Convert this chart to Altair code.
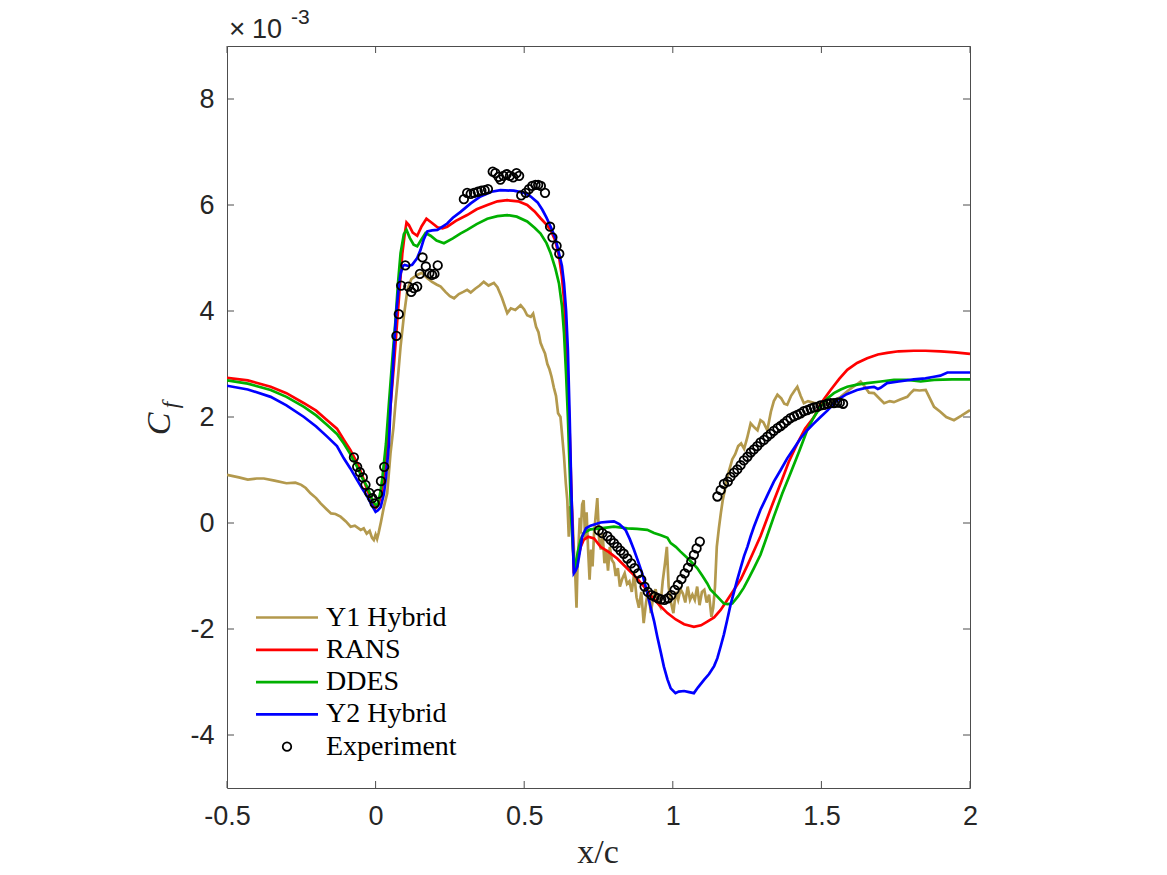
import altair as alt
import pandas as pd

# Skin-friction coefficient along the chord, Cf in units of 1e-3

y1_x = [-0.50, -0.46, -0.43, -0.40, -0.376, -0.34, -0.30, -0.27, -0.25, -0.235, -0.219, -0.20,
        -0.185, -0.165, -0.15, -0.135, -0.118, -0.10, -0.084, -0.07, -0.05, -0.04, -0.03, -0.02,
        -0.012, -0.006, 0.0, 0.005, 0.01, 0.018, 0.028, 0.039, 0.05, 0.06, 0.067, 0.076, 0.084,
        0.095, 0.107, 0.12, 0.14, 0.155, 0.174, 0.19, 0.205, 0.219, 0.235, 0.25, 0.264, 0.28,
        0.295, 0.308, 0.32, 0.335, 0.35, 0.364, 0.38, 0.398, 0.41, 0.425, 0.443, 0.455, 0.47,
        0.488, 0.50, 0.51, 0.522, 0.53, 0.54, 0.548, 0.555, 0.562, 0.57, 0.578, 0.585, 0.592,
        0.60, 0.607, 0.614, 0.622, 0.628, 0.634, 0.64, 0.645, 0.65, 0.655, 0.66, 0.664, 0.668,
        0.672, 0.676, 0.679, 0.683, 0.687, 0.69, 0.695, 0.70, 0.705, 0.71, 0.715, 0.72, 0.725,
        0.73, 0.735, 0.74, 0.746, 0.752, 0.758, 0.764, 0.77, 0.776, 0.782, 0.788, 0.795, 0.802,
        0.808, 0.815, 0.822, 0.83, 0.838, 0.846, 0.854, 0.862, 0.87, 0.878, 0.886, 0.894, 0.902,
        0.91, 0.918, 0.926, 0.934, 0.942, 0.95, 0.958, 0.966, 0.974, 0.98, 0.986, 0.994, 1.002,
        1.01, 1.018, 1.026, 1.034, 1.042, 1.05, 1.058, 1.066, 1.074, 1.082, 1.09, 1.098, 1.106,
        1.114, 1.122, 1.13, 1.136, 1.142, 1.148, 1.155, 1.162, 1.168, 1.175, 1.182, 1.19, 1.2,
        1.21, 1.22, 1.23, 1.24, 1.25, 1.262, 1.275, 1.285, 1.295, 1.305, 1.318, 1.33, 1.34,
        1.352, 1.365, 1.375, 1.385, 1.398, 1.41, 1.419, 1.43, 1.441, 1.455, 1.475, 1.49, 1.509,
        1.53, 1.55, 1.565, 1.59, 1.61, 1.632, 1.645, 1.66, 1.677, 1.695, 1.711, 1.73, 1.744,
        1.765, 1.789, 1.80, 1.811, 1.83, 1.851, 1.865, 1.879, 1.90, 1.92, 1.946, 1.97, 2.0]
y1_cf = [0.91, 0.86, 0.82, 0.84, 0.84, 0.80, 0.75, 0.76, 0.72, 0.66, 0.56, 0.47,
         0.37, 0.26, 0.18, 0.17, 0.12, 0.03, -0.07, -0.05, -0.13, -0.10, -0.20, -0.15,
         -0.28, -0.32, -0.22, -0.30, -0.19, 0.02, 0.31, 0.56, 1.31, 1.80, 2.26, 2.80, 3.33,
         3.90, 4.40, 4.60, 4.68, 4.72, 4.62, 4.55, 4.50, 4.46, 4.36, 4.28, 4.24, 4.32,
         4.36, 4.40, 4.35, 4.42, 4.48, 4.55, 4.48, 4.53, 4.45, 4.25, 3.96, 4.05, 4.02,
         4.11, 4.03, 3.92, 3.89, 3.95, 3.70, 3.60, 3.40, 3.30, 3.20, 3.00, 2.90, 2.76,
         2.55, 2.40, 2.07, 2.00, 1.63, 1.25, 0.75, 0.43, -0.26, 0.30, 0.31, -0.10, -0.60,
         -1.00, -1.60, -0.89, -0.40, 0.10, -0.20, 0.35, 0.43, -0.30, 0.20, -0.50, -1.07, -0.50,
         -0.82, -0.20, 0.10, 0.47, -0.30, -0.50, -0.20, -0.76, -0.50, -0.90, -0.45, -0.70, -0.76,
         -1.00, -0.85, -1.20, -1.05, -0.95, -1.15, -1.10, -1.30, -0.95, -1.40, -1.60, -1.30, -1.89,
         -1.50, -1.26, -1.70, -1.40, -1.25, -1.50, -1.58, -1.10, -0.75, -0.45, -1.20, -1.50, -1.70,
         -1.30, -1.45, -1.25, -1.33, -1.50, -1.20, -1.45, -1.35, -1.45, -1.20, -1.55, -1.30, -1.26,
         -1.50, -1.35, -1.77, -1.60, -1.20, -0.45, -0.10, 0.20, 0.43, 0.62, 0.85, 1.00, 1.20,
         1.30, 1.45, 1.50, 1.40, 1.60, 1.88, 1.80, 1.75, 1.94, 1.90, 1.75, 2.10, 2.30,
         2.42, 2.35, 2.25, 2.23, 2.40, 2.50, 2.57, 2.40, 2.26, 2.30, 2.27, 2.25, 2.22,
         2.28, 2.33, 2.38, 2.50, 2.58, 2.67, 2.58, 2.46, 2.45, 2.35, 2.26, 2.30, 2.28,
         2.33, 2.38, 2.45, 2.51, 2.50, 2.51, 2.35, 2.19, 2.10, 2.00, 1.94, 2.02, 2.13]

rans_x = [-0.5, -0.43, -0.353, -0.3, -0.241, -0.2, -0.163, -0.13, -0.107, -0.085, -0.062, -0.045,
          -0.028, -0.012, 0.0, 0.01, 0.02, 0.028, 0.04, 0.05, 0.062, 0.073, 0.082, 0.09, 0.098,
          0.104, 0.112, 0.125, 0.14, 0.155, 0.171, 0.19, 0.208, 0.225, 0.241, 0.27, 0.308, 0.34,
          0.376, 0.41, 0.443, 0.48, 0.51, 0.535, 0.555, 0.575, 0.589, 0.605, 0.617, 0.627, 0.634,
          0.641, 0.647, 0.653, 0.658, 0.663, 0.667, 0.672, 0.679, 0.69, 0.70, 0.715, 0.735, 0.757,
          0.785, 0.813, 0.84, 0.869, 0.9, 0.925, 0.955, 0.982, 1.01, 1.038, 1.071, 1.095, 1.116,
          1.139, 1.161, 1.18, 1.206, 1.23, 1.251, 1.275, 1.295, 1.307, 1.335, 1.363, 1.39, 1.419,
          1.445, 1.475, 1.5, 1.531, 1.56, 1.587, 1.62, 1.654, 1.69, 1.721, 1.76, 1.811, 1.85,
          1.901, 1.95, 2.0]
rans_cf = [2.74, 2.69, 2.57, 2.45, 2.26, 2.12, 1.94, 1.78, 1.57, 1.38, 1.13, 0.90,
           0.62, 0.42, 0.28, 0.35, 0.58, 0.87, 1.50, 2.19, 3.00, 3.83, 4.50, 5.09, 5.45,
           5.67, 5.62, 5.48, 5.42, 5.60, 5.74, 5.66, 5.58, 5.56, 5.59, 5.70, 5.81, 5.92,
           6.00, 6.07, 6.09, 6.07, 6.00, 5.88, 5.75, 5.63, 5.53, 5.32, 5.03, 4.65, 4.21,
           3.50, 2.64, 1.70, 0.75, -0.20, -0.95, -0.85, -0.70, -0.45, -0.32, -0.26, -0.29, -0.45,
           -0.55, -0.67, -0.82, -0.98, -1.18, -1.36, -1.55, -1.70, -1.82, -1.91, -1.96, -1.93, -1.86,
           -1.78, -1.64, -1.48, -1.26, -1.05, -0.80, -0.50, -0.25, -0.07, 0.35, 0.75, 1.15, 1.50,
           1.78, 2.00, 2.27, 2.51, 2.72, 2.89, 3.02, 3.11, 3.18, 3.21, 3.24, 3.25, 3.25,
           3.24, 3.22, 3.19]

ddes_x = [-0.5, -0.43, -0.353, -0.3, -0.241, -0.2, -0.163, -0.13, -0.107, -0.085, -0.062, -0.045,
          -0.028, -0.012, -0.003, 0.005, 0.015, 0.022, 0.035, 0.044, 0.055, 0.067, 0.075, 0.084,
          0.095, 0.104, 0.115, 0.128, 0.14, 0.152, 0.168, 0.185, 0.205, 0.23, 0.26, 0.285, 0.308,
          0.34, 0.376, 0.41, 0.443, 0.475, 0.51, 0.535, 0.555, 0.575, 0.589, 0.605, 0.617, 0.627,
          0.634, 0.641, 0.647, 0.653, 0.658, 0.664, 0.671, 0.68, 0.69, 0.70, 0.723, 0.757, 0.802,
          0.847, 0.88, 0.914, 0.937, 0.96, 0.982, 0.993, 1.01, 1.026, 1.049, 1.065, 1.082, 1.1,
          1.116, 1.127, 1.15, 1.172, 1.185, 1.20, 1.22, 1.239, 1.255, 1.273, 1.295, 1.317, 1.34,
          1.368, 1.396, 1.425, 1.452, 1.475, 1.497, 1.52, 1.542, 1.565, 1.587, 1.62, 1.654, 1.7,
          1.744, 1.79, 1.834, 1.879, 1.94, 2.0]
ddes_cf = [2.69, 2.63, 2.51, 2.38, 2.19, 2.03, 1.85, 1.68, 1.50, 1.30, 1.06, 0.85,
           0.68, 0.45, 0.36, 0.32, 0.55, 0.81, 1.50, 2.19, 3.00, 3.83, 4.50, 5.09,
           5.45, 5.53, 5.38, 5.25, 5.22, 5.33, 5.47, 5.42, 5.33, 5.28, 5.37, 5.46, 5.53,
           5.64, 5.74, 5.79, 5.81, 5.78, 5.69, 5.57, 5.46, 5.28, 5.09, 4.80, 4.52, 4.10,
           3.58, 2.80, 2.00, 1.00, 0.12, -0.50, -0.89, -0.55, -0.32, -0.19, -0.12, -0.10, -0.07,
           -0.10, -0.11, -0.13, -0.19, -0.23, -0.28, -0.38, -0.45, -0.54, -0.66, -0.75, -0.85, -1.00,
           -1.14, -1.26, -1.39, -1.52, -1.53, -1.52, -1.38, -1.22, -1.05, -0.85, -0.60, -0.25, 0.12,
           0.55, 0.94, 1.35, 1.75, 2.00, 2.19, 2.35, 2.45, 2.52, 2.57, 2.61, 2.64, 2.67,
           2.70, 2.70, 2.67, 2.70, 2.71, 2.71]

y2_x = [-0.5, -0.43, -0.353, -0.3, -0.241, -0.2, -0.163, -0.13, -0.107, -0.085, -0.062, -0.045,
        -0.028, -0.012, 0.0, 0.008, 0.017, 0.028, 0.035, 0.045, 0.05, 0.058, 0.064, 0.07, 0.078,
        0.084, 0.092, 0.098, 0.11, 0.123, 0.14, 0.151, 0.162, 0.174, 0.19, 0.208, 0.241, 0.26,
        0.286, 0.32, 0.353, 0.39, 0.42, 0.465, 0.5, 0.522, 0.545, 0.561, 0.575, 0.589, 0.605,
        0.617, 0.627, 0.634, 0.641, 0.647, 0.653, 0.658, 0.663, 0.667, 0.673, 0.679, 0.69, 0.695,
        0.708, 0.723, 0.757, 0.78, 0.802, 0.82, 0.841, 0.855, 0.869, 0.883, 0.897, 0.911, 0.925,
        0.937, 0.948, 0.96, 0.97, 0.982, 0.993, 1.009, 1.02, 1.038, 1.055, 1.071, 1.085, 1.105,
        1.122, 1.139, 1.15, 1.161, 1.172, 1.183, 1.194, 1.206, 1.217, 1.228, 1.24, 1.251, 1.262,
        1.273, 1.295, 1.318, 1.34, 1.363, 1.385, 1.408, 1.43, 1.452, 1.475, 1.497, 1.52, 1.553,
        1.585, 1.62, 1.65, 1.677, 1.69, 1.699, 1.721, 1.76, 1.811, 1.85, 1.879, 1.9, 1.924,
        1.96, 2.0]
y2_cf = [2.59, 2.52, 2.38, 2.22, 2.00, 1.82, 1.63, 1.45, 1.22, 1.03, 0.81, 0.65,
         0.50, 0.33, 0.21, 0.24, 0.30, 0.55, 0.87, 1.50, 2.19, 2.90, 3.52, 4.00, 4.46,
         4.70, 4.85, 4.87, 4.85, 4.87, 5.00, 5.15, 5.35, 5.50, 5.52, 5.53, 5.65, 5.76,
         5.87, 6.03, 6.16, 6.25, 6.28, 6.27, 6.23, 6.16, 6.05, 5.91, 5.76, 5.59, 5.38,
         5.09, 4.85, 4.52, 4.00, 3.26, 2.00, 0.75, -0.20, -0.95, -0.90, -0.82, -0.45, -0.26,
         -0.10, -0.05, 0.01, 0.02, 0.03, -0.02, -0.13, -0.30, -0.50, -0.72, -0.95, -1.25, -1.58,
         -1.85, -2.15, -2.45, -2.71, -2.95, -3.12, -3.21, -3.18, -3.17, -3.19, -3.21, -3.10, -2.96,
         -2.85, -2.70, -2.55, -2.33, -2.10, -1.83, -1.55, -1.30, -1.07, -0.85, -0.62, -0.45, -0.25,
         -0.07, 0.25, 0.52, 0.78, 1.00, 1.22, 1.41, 1.60, 1.75, 1.88, 2.00, 2.12, 2.32,
         2.43, 2.51, 2.55, 2.57, 2.53, 2.55, 2.64, 2.67, 2.71, 2.73, 2.76, 2.78, 2.84,
         2.84, 2.84]

exp_x = [-0.073, -0.062, -0.053, -0.043, -0.034, -0.021, -0.011, -0.003, 0.008, 0.018, 0.029,
         0.070, 0.078, 0.086, 0.100, 0.110, 0.120, 0.129, 0.140, 0.149, 0.158, 0.169, 0.181,
         0.190, 0.198, 0.209,
         0.297, 0.308, 0.320, 0.331, 0.344, 0.356, 0.367, 0.378, 0.394, 0.403, 0.414, 0.420,
         0.430, 0.441, 0.452, 0.463, 0.474, 0.483, 0.490, 0.505, 0.516, 0.527, 0.538, 0.547,
         0.556, 0.570, 0.587, 0.595, 0.609, 0.618,
         0.751, 0.763, 0.780, 0.791, 0.802, 0.813, 0.824, 0.835, 0.847, 0.860, 0.871, 0.883,
         0.894, 0.905, 0.916, 0.928, 0.939, 0.950, 0.961, 0.972, 0.984, 0.995, 1.006, 1.017,
         1.029, 1.040, 1.051, 1.062, 1.071, 1.080, 1.091,
         1.150, 1.161, 1.172, 1.185, 1.194, 1.206, 1.217, 1.228, 1.239, 1.251, 1.262, 1.273,
         1.284, 1.295, 1.307, 1.318, 1.329, 1.340, 1.352, 1.363, 1.374, 1.385, 1.396, 1.408,
         1.419, 1.430, 1.441, 1.452, 1.464, 1.475, 1.486, 1.497, 1.509, 1.520, 1.531, 1.542,
         1.553, 1.562, 1.573]
exp_cf = [1.24, 1.06, 0.96, 0.86, 0.72, 0.57, 0.47, 0.37, 0.55, 0.79, 1.06,
          3.53, 3.94, 4.48, 4.86, 4.46, 4.36, 4.43, 4.46, 4.70, 5.01, 4.84, 4.71,
          4.68, 4.70, 4.86,
          6.11, 6.23, 6.21, 6.23, 6.25, 6.27, 6.28, 6.30, 6.63, 6.60, 6.53, 6.48,
          6.55, 6.58, 6.55, 6.52, 6.60, 6.55, 6.18, 6.23, 6.30, 6.36, 6.38, 6.38,
          6.36, 6.23, 5.59, 5.39, 5.23, 5.08,
          -0.14, -0.19, -0.25, -0.32, -0.38, -0.45, -0.52, -0.58, -0.67, -0.76, -0.85, -0.95,
          -1.07, -1.20, -1.30, -1.36, -1.39, -1.42, -1.44, -1.45, -1.42, -1.36, -1.26, -1.17,
          -1.06, -0.95, -0.84, -0.73, -0.60, -0.48, -0.35,
          0.50, 0.62, 0.74, 0.78, 0.87, 0.95, 1.01, 1.09, 1.18, 1.25, 1.33, 1.39,
          1.45, 1.52, 1.57, 1.63, 1.68, 1.74, 1.79, 1.83, 1.88, 1.93, 1.98, 2.01,
          2.04, 2.07, 2.11, 2.13, 2.16, 2.18, 2.19, 2.22, 2.23, 2.25, 2.26, 2.26,
          2.27, 2.27, 2.25]

series_names = ["Y1 Hybrid", "RANS", "DDES", "Y2 Hybrid"]
series_colors = ["#b3994d", "#ff0000", "#00b000", "#0000ff"]
series_data = [(y1_x, y1_cf), (rans_x, rans_cf), (ddes_x, ddes_cf), (y2_x, y2_cf)]
exp_name = "Experiment"

x_ticks = [-0.5, 0, 0.5, 1, 1.5, 2]
y_ticks = [-4, -2, 0, 2, 4, 6, 8]

# ---- layout (page pixels) ----
PAGE_W, PAGE_H = 1167, 875
LEFT, TOP, RIGHT, BOTTOM = 227, 46, 970, 788
W, H = RIGHT - LEFT, BOTTOM - TOP
FRAME = "#4d4d4d"
TICK_LEN = 7
SANS = "Liberation Sans"
SERIF = "Liberation Serif"
LINE_W = 2.7
MARKER_SIZE = 72
MARKER_W = 1.8

x_scale = alt.Scale(domain=[-0.5, 2], nice=False, zero=False)
y_scale = alt.Scale(domain=[-5, 9], nice=False, zero=False)
x_axis = alt.Axis(values=x_ticks, labelExpr="'' + datum.value", domain=False, ticks=False,
                  grid=False, title=None, labelFont=SANS, labelFontSize=27, labelFlush=False,
                  labelOverlap=False, labelColor="#262626", labelPadding=15)
y_axis = alt.Axis(values=y_ticks, labelExpr="'' + datum.value", domain=False, ticks=False,
                  grid=False, title=None, labelFont=SANS, labelFontSize=27, labelFlush=False,
                  labelOverlap=False, labelColor="#262626", labelPadding=13)


def X(field="x"):
    return alt.X(f"{field}:Q", scale=x_scale, axis=x_axis)


def Y(field="cf"):
    return alt.Y(f"{field}:Q", scale=y_scale, axis=y_axis)


ONE = pd.DataFrame({"_": [0]})


def px(v):
    return alt.value(v - LEFT)


def py(v):
    return alt.value(v - TOP)


def text_at(text, x, y, **kw):
    return alt.Chart(ONE).mark_text(text=text, **kw).encode(x=px(x), y=py(y))


layers = []

# simulation curves, drawn in legend order
for name, color, (xs, ys) in zip(series_names, series_colors, series_data):
    df = pd.DataFrame({"x": xs, "cf": ys, "series": name})
    layers.append(
        alt.Chart(df).mark_line(color=color, strokeWidth=LINE_W, clip=True)
        .encode(x=X(), y=Y(), order="x:Q")
    )

# measured points
exp_df = pd.DataFrame({"x": exp_x, "cf": exp_cf})
layers.append(
    alt.Chart(exp_df).mark_point(shape="circle", filled=False, color="black",
                                 size=MARKER_SIZE, strokeWidth=MARKER_W, opacity=1, clip=True)
    .encode(x=X(), y=Y())
)

# inward ticks on all four sides
xt = pd.DataFrame({"x": x_ticks})
yt = pd.DataFrame({"cf": y_ticks})
layers += [
    alt.Chart(xt).mark_rule(color=FRAME, strokeWidth=1).encode(
        x=X(), y=alt.value(H), y2=alt.value(H - TICK_LEN)),
    alt.Chart(xt).mark_rule(color=FRAME, strokeWidth=1).encode(
        x=X(), y=alt.value(0), y2=alt.value(TICK_LEN)),
    alt.Chart(yt).mark_rule(color=FRAME, strokeWidth=1).encode(
        y=Y(), x=alt.value(0), x2=alt.value(TICK_LEN)),
    alt.Chart(yt).mark_rule(color=FRAME, strokeWidth=1).encode(
        y=Y(), x=alt.value(W), x2=alt.value(W - TICK_LEN)),
]

# exponent marker above the y axis
layers += [
    text_at("×", 229, 38, font=SANS, fontSize=28, align="left", baseline="alphabetic",
            color="#262626"),
    text_at("10", 252, 38, font=SANS, fontSize=27, align="left", baseline="alphabetic",
            color="#262626"),
    text_at("-3", 291, 24, font=SANS, fontSize=21, align="left", baseline="alphabetic",
            color="#262626"),
]

# axis titles
layers += [
    text_at("x/c", 598, 863, font=SERIF, fontSize=34, align="center", baseline="alphabetic",
            color="#262626"),
    text_at("C", 160, 424, font=SERIF, fontSize=34, fontStyle="italic", angle=270,
            align="center", baseline="middle", color="#262626"),
    text_at("f", 171, 405, font=SERIF, fontSize=23, fontStyle="italic", angle=270,
            align="center", baseline="middle", color="#262626"),
]

# legend
LEG_LINE_X0, LEG_LINE_X1, LEG_TEXT_X = 256, 318, 326
LEG_ROW0, LEG_STEP = 617.5, 32.3
for i, (name, color) in enumerate(zip(series_names, series_colors)):
    ry = LEG_ROW0 + i * LEG_STEP
    layers.append(
        alt.Chart(ONE).mark_rule(color=color, strokeWidth=LINE_W)
        .encode(x=px(LEG_LINE_X0), x2=px(LEG_LINE_X1), y=py(ry))
    )
    layers.append(text_at(name, LEG_TEXT_X, ry + 8, font=SERIF, fontSize=28, align="left",
                          baseline="alphabetic", color="black"))
ry = LEG_ROW0 + 4 * LEG_STEP
layers.append(
    alt.Chart(ONE).mark_point(shape="circle", filled=False, color="black", size=MARKER_SIZE,
                              strokeWidth=MARKER_W, opacity=1)
    .encode(x=px((LEG_LINE_X0 + LEG_LINE_X1) / 2), y=py(ry))
)
layers.append(text_at(exp_name, LEG_TEXT_X, ry + 8, font=SERIF, fontSize=28, align="left",
                      baseline="alphabetic", color="black"))

chart = (
    alt.layer(*layers)
    .properties(
        width=W,
        height=H,
        padding={"left": LEFT, "top": TOP, "right": PAGE_W - RIGHT, "bottom": PAGE_H - BOTTOM},
        autosize=alt.AutoSizeParams(type="none"),
        background="white",
    )
    .configure_view(stroke=FRAME, strokeWidth=1)
)

chart.save("out.html", embed_options={"renderer": "svg", "actions": False})
